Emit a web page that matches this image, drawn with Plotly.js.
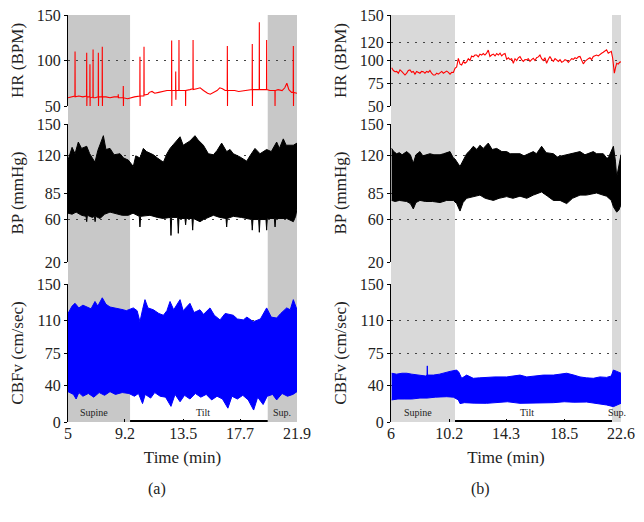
<!DOCTYPE html>
<html>
<head>
<meta charset="utf-8">
<script src="https://cdn.plot.ly/plotly-3.0.1.min.js"></script>
<style>html,body{margin:0;padding:0;background:#fff;}#chart{width:644px;height:522px;}</style>
</head>
<body>
<div id="chart"></div>
<script>
// ---------- Panel (a) ----------
var xTicksA = [5, 9.2, 13.5, 17.7, 21.9];
var phasesA = {supine: [5, 9.58], tilt: [9.58, 19.74], sup: [19.74, 21.9]};

var hrATime = [5.0,5.3,5.51,5.52,5.53,5.8,6.1,6.37,6.38,6.39,6.40,6.61,6.62,6.63,6.64,6.84,6.85,6.86,7.0,7.23,7.24,7.25,7.26,7.52,7.53,7.54,7.55,7.8,8.1,8.4,8.70,8.71,8.72,9.07,9.08,9.09,9.10,9.4,9.6,9.9,10.30,10.31,10.32,10.33,10.60,10.61,10.62,10.9,11.0,11.2,11.4,11.7,12.0,12.3,12.64,12.65,12.66,12.67,12.94,12.95,12.96,12.97,13.18,13.19,13.20,13.5,13.67,13.68,13.69,14.0,14.22,14.23,14.24,14.5,14.75,15.0,15.3,15.5,15.8,16.0,16.2,16.4,16.6,16.75,16.76,16.77,16.78,17.0,17.3,17.6,18.0,18.3,18.59,18.60,18.61,18.62,18.8,19.11,19.12,19.13,19.4,19.65,19.66,19.67,19.9,20.27,20.28,20.29,20.5,20.8,21.0,21.15,21.3,21.5,21.62,21.63,21.64,21.65,21.9];
var hrAVal  = [59,60,61,110,60,61,60,61,108.6,50,60,60,96,50,59,60,112,59,59,60,108.6,50,60,60,115,50,60,60,59,60,60,63,59,59,72,50,59,58,59,60,61,104,50,61,61,115,62,63,65,66,64,65,66,67,67,122,50,67,67,88,57,67,67,122.6,67,67,67,50,67,68,69,122.6,68,69,70,67,64,63,65,67,70,69,67,67,116,50,67,67,67,66,67,68,68,118,50,68,68,68,142,68,68,68,122.6,68,67,67,50,67,68,67,70,75,68,65,65,116,50,65,64];

var bpAUpT = [5.0,5.3,5.52,5.76,6.0,6.38,6.6,6.99,7.2,7.36,7.61,7.8,8.10,8.4,8.84,9.1,9.45,9.82,10.0,10.31,10.56,10.8,11.30,11.6,12.04,12.3,12.53,12.8,13.27,13.5,13.76,14.0,14.37,14.6,14.99,15.36,15.73,16.0,16.34,16.71,16.96,17.2,17.69,18.19,18.43,18.80,19.17,19.66,20.0,20.40,20.6,20.89,21.1,21.63,21.9];
var bpAUpV = [116,128,122,133,127,129,122,114,125,130,139,126,127,121,122,118,116,110,120,118,127,124,121,118,114,122,127,131,138,130,132,134,139,135,130,122,121,125,132,124,126,122,119,115,120,127,122,126,124,133,127,136,130,130,132];
var bpALoT = [5.0,5.3,5.6,6.0,6.33,6.38,6.43,6.8,6.95,7.0,7.05,7.36,7.7,8.10,8.5,9.0,9.45,9.8,10.26,10.31,10.36,10.5,11.05,11.6,12.04,12.55,12.60,12.65,13.09,13.14,13.19,13.63,13.68,13.73,14.15,14.20,14.25,14.74,15.0,15.73,16.2,16.66,16.71,16.76,17.20,17.8,18.2,18.55,18.60,18.65,19.07,19.12,19.17,19.61,19.66,19.71,20.23,20.28,20.33,21.14,21.63,21.8,21.9];
var bpALoV = [66,65,67,64,63,58,64,62,63,58,63,61,65,67,66,64,64,66,63,53,63,63,64,62,61,62,45,62,62,47,61,61,55,61,61,50,61,58,60,64,62,61,53,61,63,62,61,60,50,60,60,48,60,60,50,61,61,53,61,61,58,63,70];

var cbfAUpT = [5.0,5.3,5.52,5.8,6.1,6.38,6.7,6.99,7.2,7.53,7.8,8.10,8.5,9.08,9.3,9.82,10.1,10.31,10.5,10.68,10.9,11.30,11.7,12.04,12.3,12.53,12.8,13.27,13.5,14.00,14.3,14.74,15.0,15.48,15.8,16.22,16.6,17.20,17.5,17.94,18.2,18.68,19.2,19.66,20.0,20.40,20.7,21.14,21.4,21.63,21.9];
var cbfAUpV = [118,126,129,124,127,125,123,131,126,135,128,125,124,122,121,124,121,109,122,133,124,122,118,116,121,131,122,133,121,129,119,122,117,124,116,111,118,116,112,111,114,109,112,124,114,113,118,124,122,133,122];
var cbfALoT = [5.0,5.4,5.6,5.8,6.1,6.5,6.9,7.3,7.7,8.1,8.5,9.0,9.5,9.9,10.2,10.5,10.7,11.1,11.4,11.8,12.2,12.6,12.9,13.27,13.6,14.0,14.4,14.8,15.2,15.6,16.0,16.4,16.8,17.1,17.5,17.9,18.3,18.7,19.0,19.4,19.7,20.1,20.4,20.8,21.2,21.6,21.9];
var cbfALoV = [33,30,25,32,28,31,27,32,29,33,30,32,31,28,31,20,30,26,32,28,27,17,30,22,29,25,31,27,30,24,28,25,15,28,25,29,24,13,27,19,28,30,24,31,28,30,33];

// ---------- Panel (b) ----------
var xTicksB = [6, 10.2, 14.3, 18.5, 22.6];
var phasesB = {supine: [6, 10.62], tilt: [10.62, 21.95], sup: [21.95, 22.6]};

var hrBTime = [6.05,6.17,6.29,6.41,6.53,6.65,6.77,6.89,7.01,7.13,7.25,7.37,7.49,7.61,7.73,7.85,7.97,8.09,8.21,8.33,8.45,8.57,8.69,8.81,8.93,9.06,9.18,9.30,9.42,9.54,9.66,9.78,9.90,10.02,10.14,10.26,10.38,10.50,10.62,10.74,10.86,10.98,11.10,11.22,11.34,11.46,11.58,11.70,11.82,11.94,12.06,12.18,12.30,12.42,12.54,12.66,12.78,12.90,13.02,13.14,13.26,13.39,13.51,13.63,13.75,13.87,13.99,14.11,14.23,14.35,14.47,14.59,14.71,14.83,14.95,15.07,15.19,15.31,15.43,15.55,15.67,15.79,15.91,16.03,16.15,16.27,16.39,16.51,16.63,16.75,16.87,16.99,17.11,17.23,17.35,17.47,17.60,17.72,17.84,17.96,18.08,18.20,18.32,18.44,18.56,18.68,18.80,18.92,19.04,19.16,19.28,19.40,19.52,19.64,19.76,19.88,20.00,20.12,20.24,20.36,20.48,20.60,20.72,20.84,20.96,21.08,21.20,21.32,21.44,21.56,21.68,21.81,21.90,22.00,22.05,22.12,22.20,22.29,22.40,22.50,22.60];
var hrBVal  = [92,89,87.7,88,86,89.7,88,86,84,86,89,89.7,87,88,85,88,87,86,88,87.7,86,88,87,89,86,84,84,86,85,86.8,88,86,87,88.3,87,85,87,86.8,91.5,93,102.4,96,95,99,97,98.5,102,100,105,104,106,106,104,107,106,107.7,106,108,111.5,104.4,106,107,105,107.7,106,108,105,107,107.7,101.3,103,101,102,97,102,100,103,104.4,101,99,101,100.8,102,99,101,102.5,100,103,104,106,102,100,103,97,101,104.4,101,99,102,100.8,99,101,98,99,101,100,98,100,102,101.3,103,102,104,104.4,101,96.3,99,100.8,102,103,101,104.4,105,106,105,107,108,109,110,111.8,108,109.3,110,102.5,95,86,92,97,96,98,98.5];

var bpBUpT = [6.05,6.2,6.41,6.6,6.8,7.13,7.4,7.61,7.8,8.09,8.3,8.81,9.1,9.54,9.8,10.26,10.50,10.62,10.98,11.2,11.46,11.7,11.94,12.2,12.42,12.66,13.02,13.3,13.63,14.0,14.35,14.6,15.31,15.6,16.27,16.5,16.87,17.2,17.72,18.0,18.68,19.0,19.64,20.0,20.60,20.84,21.32,21.56,21.68,22.05,22.20,22.29,22.45,22.60];
var bpBUpV = [127,124,122,123,121,124,121,113,121,124,120,122,121,121,122,124,118,117,110,116,122,125,129,126,130,127,132,126,127,124,124,122,122,120,124,122,129,123,122,119,121,122,124,121,124,122,122,118,118,129,115,100,110,121];
var bpBLoT = [6.05,6.3,6.6,7.13,7.4,7.61,7.8,8.09,8.5,9.0,9.54,10.02,10.50,10.74,10.98,11.2,11.46,11.8,12.42,12.8,13.39,13.8,14.35,14.8,15.31,15.8,16.27,16.87,17.3,17.72,18.2,18.68,19.1,19.64,20.1,20.84,21.3,21.56,21.9,22.05,22.20,22.29,22.45,22.60];
var bpBLoV = [78,77,78,77,75,70,76,78,77,77,76,78,78,75,68,76,80,81,83,80,78,80,81.6,80,82,80,83,86,82,78,78,75,80,83,83,85,83,82,78,72,69,67,69,74];

var cbfBUpT = [6.05,6.4,6.8,7.13,7.5,8.09,8.5,8.60,8.62,8.64,9.06,9.5,10.26,10.74,10.9,11.10,11.46,11.94,12.4,12.90,13.5,14.35,14.8,15.31,15.8,16.51,17.0,17.72,18.2,18.68,19.2,19.64,20.1,20.60,21.08,21.56,21.9,22.05,22.3,22.60];
var cbfBUpV = [53,52,53,53,52,51,50,51,61,51,51,52,55,56.5,54,47.5,51,47.5,48,48.5,49,49,50,51,49,50,51,51,52,53,51,49,48,47.5,49,48.5,50,56.5,55,53];
var cbfBLoT = [6.05,6.5,7.0,7.5,8.09,8.6,9.2,10.02,10.5,10.86,10.98,11.3,12.0,12.90,13.6,14.4,15.31,16.0,17.0,17.72,18.5,19.2,20.12,20.8,21.56,22.05,22.3,22.60];
var cbfBLoV = [24,25,25,25,26,26,27,27.5,27,24,20,21,20.5,20.3,21,22,20.3,21,21,21,22,21.5,21.7,20.5,18.5,16.7,18,20.3];

// ---------- Axis ticks ----------
var hrTicksA = [50, 100, 150];
var hrTicksB = [50, 75, 100, 120, 150];
var bpTicks = [20, 60, 85, 120, 150];
var cbfTicks = [0, 40, 75, 110, 150];

// ---------- Build ----------
var W = 644, H = 522;
var SERIF = '"Liberation Serif", "Times New Roman", serif';
function envX(tu, tl) { return tu.concat(tl.slice().reverse()); }
function envY(vu, vl) { return vu.concat(vl.slice().reverse()); }

var traces = [
  {x: hrATime, y: hrAVal, xaxis: 'x', yaxis: 'y', type: 'scatter', mode: 'lines', line: {color: '#ff0000', width: 1.1}, hoverinfo: 'skip'},
  {x: envX(bpAUpT, bpALoT), y: envY(bpAUpV, bpALoV), xaxis: 'x', yaxis: 'y2', type: 'scatter', mode: 'lines', fill: 'toself', fillcolor: '#000000', line: {color: '#000000', width: 1}, hoverinfo: 'skip'},
  {x: envX(cbfAUpT, cbfALoT), y: envY(cbfAUpV, cbfALoV), xaxis: 'x', yaxis: 'y3', type: 'scatter', mode: 'lines', fill: 'toself', fillcolor: '#0000ff', line: {color: '#0000ff', width: 1}, hoverinfo: 'skip'},
  {x: hrBTime, y: hrBVal, xaxis: 'x2', yaxis: 'y4', type: 'scatter', mode: 'lines', line: {color: '#ff0000', width: 1.1}, hoverinfo: 'skip'},
  {x: envX(bpBUpT, bpBLoT), y: envY(bpBUpV, bpBLoV), xaxis: 'x2', yaxis: 'y5', type: 'scatter', mode: 'lines', fill: 'toself', fillcolor: '#000000', line: {color: '#000000', width: 1}, hoverinfo: 'skip'},
  {x: envX(cbfBUpT, cbfBLoT), y: envY(cbfBUpV, cbfBLoV), xaxis: 'x2', yaxis: 'y6', type: 'scatter', mode: 'lines', fill: 'toself', fillcolor: '#0000ff', line: {color: '#0000ff', width: 1}, hoverinfo: 'skip'}
];

function yDom(top, bot) { return [1 - bot / H, 1 - top / H]; }
var domHR = yDom(15, 106), domBP = yDom(124, 262), domCB = yDom(284, 422);
var tickFont = {family: SERIF, size: 16, color: '#222'};
var titleFont = {family: SERIF, size: 17, color: '#222'};

function yAx(dom, range, ticks, title, anchor) {
  return {
    domain: dom, range: range, anchor: anchor, tickmode: 'array', tickvals: ticks,
    ticks: 'outside', ticklen: 3, tickcolor: '#000', showline: true, linecolor: '#000', linewidth: 1,
    showgrid: true, gridcolor: '#444', griddash: '2px,6px', gridwidth: 1, zeroline: false,
    tickfont: tickFont, title: {text: title, font: titleFont, standoff: 8}, fixedrange: true
  };
}
function xAx(dom, range, ticks, anchor) {
  return {
    domain: dom, range: range, anchor: anchor, tickmode: 'array', tickvals: ticks,
    ticktext: ticks.map(String), ticks: 'inside', ticklen: 3, tickcolor: '#000',
    showline: false, showgrid: false, zeroline: false, tickfont: tickFont,
    title: {text: 'Time (min)', font: titleFont, standoff: 10}, fixedrange: true
  };
}

var shapes = [];
var bandTop = 1 - 15 / H, bandBot = 1 - 422 / H;
function phaseShapes(xref, yref, ph, color) {
  shapes.push({type: 'rect', xref: xref, yref: 'paper', x0: ph.supine[0], x1: ph.supine[1], y0: bandBot, y1: bandTop, fillcolor: color, line: {width: 0}, layer: 'below'});
  shapes.push({type: 'rect', xref: xref, yref: 'paper', x0: ph.sup[0], x1: ph.sup[1], y0: bandBot, y1: bandTop, fillcolor: color, line: {width: 0}, layer: 'below'});
  shapes.push({type: 'line', xref: xref, yref: yref, x0: ph.tilt[0], x1: ph.tilt[1], y0: 0, y1: 0, line: {color: '#000', width: 4}, layer: 'above'});
}
phaseShapes('x', 'y3', phasesA, '#c8c8c8');
phaseShapes('x2', 'y6', phasesB, '#d9d9d9');

var lblFont = {family: SERIF, size: 10, color: '#222'};
function phaseLabels(xref, yref, xs) {
  return [
    {xref: xref, yref: yref, x: xs[0], y: 10.5, text: 'Supine', showarrow: false, font: lblFont},
    {xref: xref, yref: yref, x: xs[1], y: 10.5, text: 'Tilt', showarrow: false, font: lblFont},
    {xref: xref, yref: yref, x: xs[2], y: 10.5, text: 'Sup.', showarrow: false, font: lblFont}
  ];
}
var annotations = phaseLabels('x', 'y3', [6.9, 14.97, 20.8]).concat(phaseLabels('x2', 'y6', [7.95, 15.8, 22.3]));
annotations.push({xref: 'paper', yref: 'paper', x: 157 / W, y: 1 - 489 / H, xanchor: 'center', yanchor: 'middle', text: '(a)', showarrow: false, font: {family: SERIF, size: 16, color: '#222'}});
annotations.push({xref: 'paper', yref: 'paper', x: 480 / W, y: 1 - 489 / H, xanchor: 'center', yanchor: 'middle', text: '(b)', showarrow: false, font: {family: SERIF, size: 16, color: '#222'}});

var layout = {
  width: W, height: H, margin: {l: 0, r: 0, t: 0, b: 0}, showlegend: false,
  paper_bgcolor: '#ffffff', plot_bgcolor: 'rgba(0,0,0,0)',
  xaxis: xAx([68 / W, 297 / W], [5, 21.9], xTicksA, 'y3'),
  xaxis2: xAx([391 / W, 621 / W], [6, 22.6], xTicksB, 'y6'),
  yaxis: yAx(domHR, [50, 150], hrTicksA, 'HR (BPM)', 'x'),
  yaxis2: yAx(domBP, [20, 150], bpTicks, 'BP (mmHg)', 'x'),
  yaxis3: yAx(domCB, [0, 150], cbfTicks, 'CBFv (cm/sec)', 'x'),
  yaxis4: yAx(domHR, [50, 150], hrTicksB, 'HR (BPM)', 'x2'),
  yaxis5: yAx(domBP, [20, 150], bpTicks, 'BP (mmHg)', 'x2'),
  yaxis6: yAx(domCB, [0, 150], cbfTicks, 'CBFv (cm/sec)', 'x2'),
  shapes: shapes, annotations: annotations
};

Plotly.newPlot('chart', traces, layout, {displayModeBar: false, staticPlot: true});
</script>
</body>
</html>
